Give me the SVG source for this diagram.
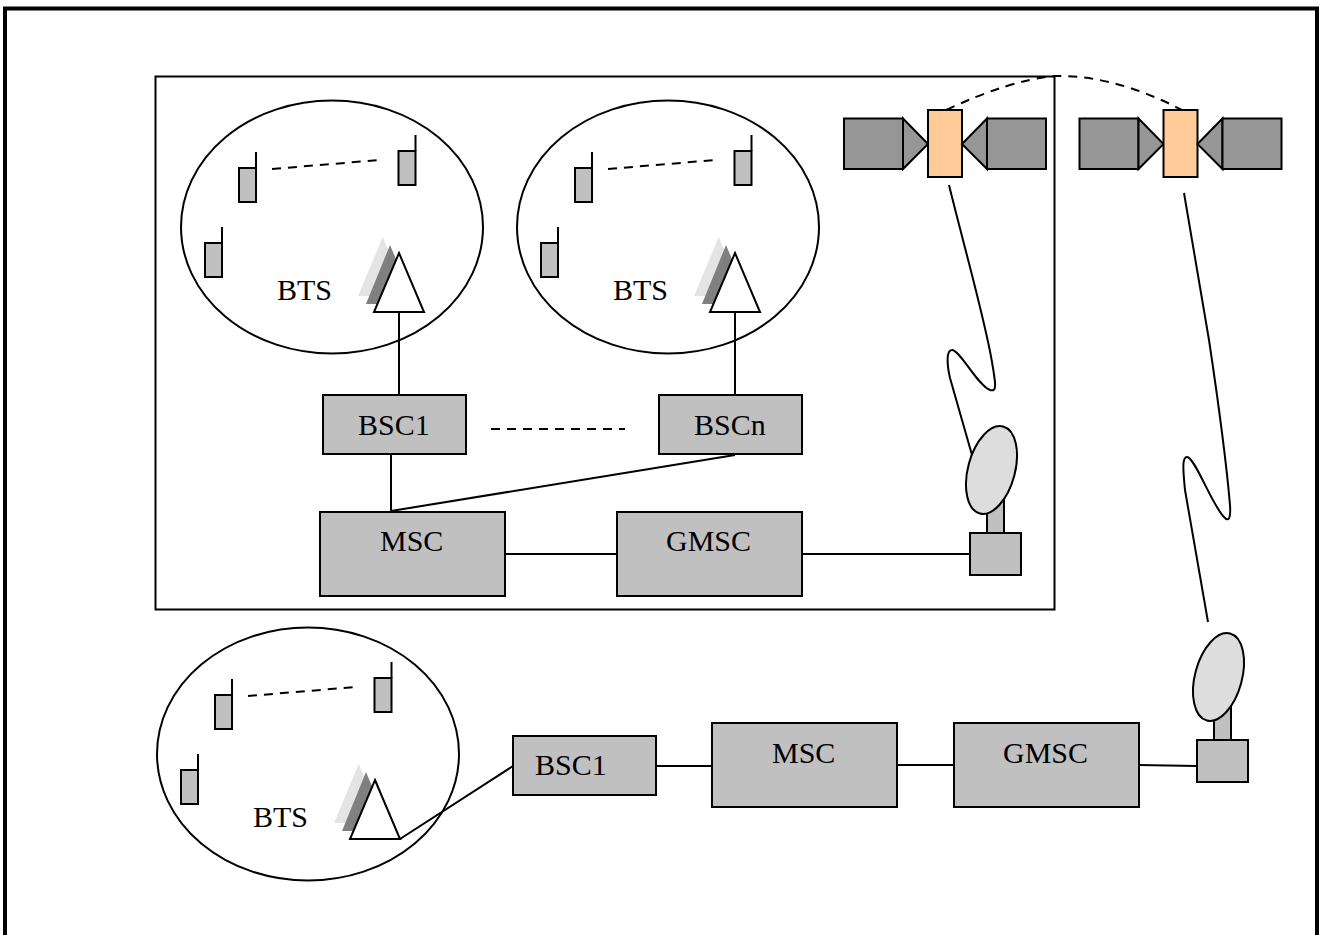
<svg xmlns="http://www.w3.org/2000/svg" xmlns:xlink="http://www.w3.org/1999/xlink" width="1320" height="935" viewBox="0 0 1320 935">
<style>
.ln{fill:none;stroke:#000;stroke-width:2}
.ds{fill:none;stroke:#000;stroke-width:2;stroke-dasharray:9 7}
.box{fill:#c0c0c0;stroke:#000;stroke-width:2}
.pan{fill:#969696;stroke:#000;stroke-width:2;stroke-linejoin:miter}
.body{fill:#ffcc99;stroke:#000;stroke-width:2}
.dish{fill:#dddddd;stroke:#000;stroke-width:2}
.cell{fill:none;stroke:#000;stroke-width:2}
text{font-family:"Liberation Serif","Times New Roman",serif;font-size:30px;fill:#000}
</style>
<defs>
<g id="phone"><rect class="box" x="0" y="16" width="17" height="34"/><path class="ln" d="M17 16V0"/></g>
<g id="tower"><path fill="#e4e4e4" d="M8.700 -16 L34 43 H-16Z"/><path fill="#808080" d="M16 -8 L41 51 H-8Z"/><path fill="#fff" stroke="#000" stroke-width="2" d="M25 0 L50 59 H0Z"/></g>
<g id="cellgrp">
<ellipse class="cell" cx="151" cy="125" rx="151" ry="126.500"/>
<use xlink:href="#phone" href="#phone" x="58" y="50"/>
<use xlink:href="#phone" href="#phone" x="217.500" y="33"/>
<use xlink:href="#phone" href="#phone" x="24" y="125"/>
<path class="ds" d="M91 67 L199 58"/>
<use xlink:href="#tower" href="#tower" x="193" y="151"/>
</g>
<g id="sat">
<rect class="pan" x="0" y="8.500" width="59" height="50.500"/>
<path class="pan" d="M59 8.500 L84 34 L59 59Z"/>
<rect class="body" x="84" y="0" width="34" height="67"/>
<path class="pan" d="M118 34 L143 8.500 V59Z"/>
<rect class="pan" x="143" y="8.500" width="59" height="50.500"/>
</g>
<g id="ant">
<rect class="box" x="17" y="-40" width="17" height="42"/>
<rect class="box" x="0" y="0" width="51" height="42"/>
<ellipse class="dish" cx="21.500" cy="-63" rx="23.500" ry="45" transform="rotate(15 21.500 -63)"/>
</g>
</defs>
<g id="frame"><path d="M5 940V8.500H1317V940" fill="none" stroke="#000" stroke-width="4"/></g>
<g id="region"><rect x="155.500" y="76.500" width="899" height="533" fill="none" stroke="#000" stroke-width="2"/></g>
<g id="connectors">
<path class="ln" d="M399 312V395M735 312V395M391 454V512M391 511L735 455M505 554H617M802 554H970"/>
<path class="ds" d="M491 429H625"/>
<path class="ds" d="M946 110Q1010 80 1055 76Q1115 75 1182 110"/>
<path class="ln" d="M949 185C965 250 985 320 992 362C996 385 997 392 990 390C978 386 960 350 952 350C946 350 947 365 950 378L972 455"/>
<path class="ln" d="M1184 193L1209 340C1218 400 1227 470 1230 505C1231 520 1228 521 1225 518C1213 508 1195 457 1187 457C1182 457 1183 470 1185 490L1208 622"/>
<path class="ln" d="M400 839L513 766M656 766H712M897 765H954M1139 765L1197 766"/>
</g>
<g id="cell1"><use xlink:href="#cellgrp" href="#cellgrp" x="181" y="102"/><text x="277" y="299.500">BTS</text></g>
<g id="cell2"><use xlink:href="#cellgrp" href="#cellgrp" x="517" y="102"/><text x="613" y="299.500">BTS</text></g>
<g id="cell3"><use xlink:href="#cellgrp" href="#cellgrp" x="157" y="629"/><text x="253" y="827">BTS</text></g>
<g id="bsc1"><rect class="box" x="323" y="395" width="143" height="59"/><text x="358" y="435">BSC1</text></g>
<g id="bscn"><rect class="box" x="659" y="395" width="143" height="59"/><text x="694" y="435">BSCn</text></g>
<g id="msc"><rect class="box" x="320" y="512" width="185" height="84"/><text x="380" y="551">MSC</text></g>
<g id="gmsc"><rect class="box" x="617" y="512" width="185" height="84"/><text x="666" y="551">GMSC</text></g>
<g id="sat1"><use xlink:href="#sat" href="#sat" x="844" y="110"/></g>
<g id="sat2"><use xlink:href="#sat" href="#sat" x="1079.500" y="110"/></g>
<g id="antenna1"><use xlink:href="#ant" href="#ant" x="970" y="533"/></g>
<g id="antenna2"><use xlink:href="#ant" href="#ant" x="1197" y="740"/></g>
<g id="bsc1b"><rect class="box" x="513" y="736" width="143" height="59"/><text x="535" y="775">BSC1</text></g>
<g id="mscb"><rect class="box" x="712" y="723" width="185" height="84"/><text x="772" y="763">MSC</text></g>
<g id="gmscb"><rect class="box" x="954" y="723" width="185" height="84"/><text x="1003" y="763">GMSC</text></g>
</svg>
